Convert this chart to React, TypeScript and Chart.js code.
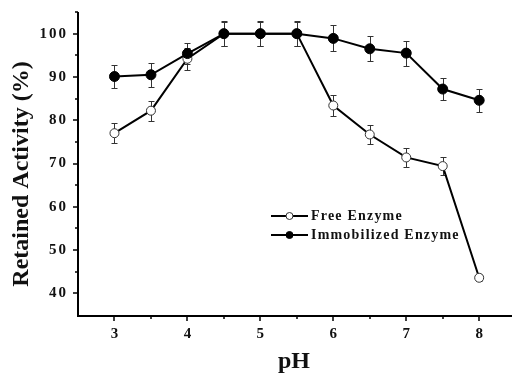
import React, { useEffect, useRef } from "react";
import { Chart, registerables } from "chart.js";
Chart.register(...registerables);

const phValues = [3, 3.5, 4, 4.5, 5, 5.5, 6, 6.5, 7, 7.5, 8];
const freeActivity = [77.0, 82.2, 94.2, 100, 100, 100, 83.4, 76.7, 71.4, 69.4, 43.6];
const freeError = [2.3, 2.3, 2.5, 2.8, 2.8, 2.8, 2.5, 2.2, 2.1, 2.1, 0.8];
const immobilizedActivity = [90.1, 90.5, 95.4, 100, 100, 100, 98.9, 96.5, 95.5, 87.2, 84.6];
const immobilizedError = [2.7, 2.8, 2.5, 2.9, 2.9, 2.9, 3.0, 2.9, 2.9, 2.6, 2.6];
const xTickValues = [3, 4, 5, 6, 7, 8];
const xMinorTickValues = [3.5, 4.5, 5.5, 6.5, 7.5];
const yTickValues = [40, 50, 60, 70, 80, 90, 100];
const yMinorTickValues = [45, 55, 65, 75, 85, 95, 105];
const seriesLabels = ["Free Enzyme", "Immobilized Enzyme"];
const xTitle = "pH";
const yTitle = "Retained Activity (%)";

const FONT = '"Liberation Serif", "Times New Roman", serif';
const TEXT = "#111111";

const errorBarPlugin = {
  id: "errorBars",
  beforeDatasetsDraw(chart: any) {
    const ctx = chart.ctx;
    const xs = chart.scales.x;
    const ys = chart.scales.y;
    const errs = [freeError, immobilizedError];
    ctx.save();
    ctx.strokeStyle = "#333333";
    ctx.lineWidth = 1;
    chart.data.datasets.forEach((ds: any, i: number) => {
      ds.data.forEach((p: any, j: number) => {
        const x = Math.round(xs.getPixelForValue(p.x)) + 0.5;
        const yt = Math.round(ys.getPixelForValue(p.y + errs[i][j])) + 0.5;
        const yb = Math.round(ys.getPixelForValue(p.y - errs[i][j])) + 0.5;
        ctx.beginPath();
        ctx.moveTo(x, yt);
        ctx.lineTo(x, yb);
        ctx.moveTo(x - 3, yt);
        ctx.lineTo(x + 3, yt);
        ctx.moveTo(x - 3, yb);
        ctx.lineTo(x + 3, yb);
        ctx.stroke();
      });
    });
    ctx.restore();
  },
};

const axesPlugin = {
  id: "customAxes",
  afterDraw(chart: any) {
    const ctx = chart.ctx;
    const xs = chart.scales.x;
    const ys = chart.scales.y;
    const a = chart.chartArea;
    ctx.save();
    ctx.strokeStyle = "#000";
    ctx.lineWidth = 2;
    ctx.beginPath();
    ctx.moveTo(a.left, a.top);
    ctx.lineTo(a.left, a.bottom + 1);
    ctx.lineTo(a.right, a.bottom + 1);
    ctx.stroke();

    ctx.lineWidth = 1.5;
    ctx.beginPath();
    xTickValues.forEach((v) => {
      const x = Math.round(xs.getPixelForValue(v));
      ctx.moveTo(x, a.bottom + 1);
      ctx.lineTo(x, a.bottom + 6);
    });
    xMinorTickValues.forEach((v) => {
      const x = Math.round(xs.getPixelForValue(v));
      ctx.moveTo(x, a.bottom + 1);
      ctx.lineTo(x, a.bottom + 4);
    });
    yTickValues.forEach((v) => {
      const y = Math.round(ys.getPixelForValue(v));
      ctx.moveTo(a.left, y);
      ctx.lineTo(a.left - 5, y);
    });
    yMinorTickValues.forEach((v) => {
      const y = Math.round(ys.getPixelForValue(v));
      ctx.moveTo(a.left, y);
      ctx.lineTo(a.left - 3, y);
    });
    ctx.stroke();

    ctx.fillStyle = TEXT;
    ctx.font = `bold 15px ${FONT}`;
    ctx.textBaseline = "middle";
    ctx.textAlign = "center";
    xTickValues.forEach((v) => {
      ctx.fillText(String(v), xs.getPixelForValue(v), a.bottom + 19);
    });
    ctx.textAlign = "right";
    (ctx as any).letterSpacing = "2px";
    yTickValues.forEach((v) => {
      ctx.fillText(String(v), a.left - 10, ys.getPixelForValue(v));
    });
    (ctx as any).letterSpacing = "0px";

    ctx.font = `bold 24px ${FONT}`;
    ctx.textAlign = "center";
    ctx.textBaseline = "alphabetic";
    ctx.fillText(xTitle, (a.left + a.right) / 2 - 1, a.bottom + 53);

    ctx.save();
    ctx.translate(22, 174);
    ctx.rotate(-Math.PI / 2);
    ctx.textBaseline = "middle";
    ctx.fillText(yTitle, 0, 0);
    ctx.restore();

    // legend
    const lx = a.left + 193;
    const ly = a.top + 204;
    chart.data.datasets.forEach((ds: any, i: number) => {
      const yy = ly + i * 19;
      ctx.strokeStyle = "#000";
      ctx.lineWidth = 2;
      ctx.beginPath();
      ctx.moveTo(lx, yy);
      ctx.lineTo(lx + 37, yy);
      ctx.stroke();
      ctx.beginPath();
      ctx.arc(lx + 18.5, yy, 3.5, 0, Math.PI * 2);
      ctx.fillStyle = ds.pointBackgroundColor;
      ctx.fill();
      ctx.lineWidth = 1;
      ctx.strokeStyle = ds.pointBorderColor;
      ctx.stroke();
      ctx.fillStyle = TEXT;
      ctx.font = `bold 14px ${FONT}`;
      (ctx as any).letterSpacing = "1.2px";
      ctx.textAlign = "left";
      ctx.textBaseline = "middle";
      ctx.fillText(seriesLabels[i], lx + 40, yy + 0.5);
      (ctx as any).letterSpacing = "0px";
    });
    ctx.restore();
  },
};

export default function App() {
  const ref = useRef<HTMLCanvasElement | null>(null);
  useEffect(() => {
    if (!ref.current) return;
    const chart = new Chart(ref.current, {
      type: "line",
      data: {
        datasets: [
          {
            label: seriesLabels[0],
            data: phValues.map((x, i) => ({ x, y: freeActivity[i] })),
            borderColor: "#000",
            borderWidth: 2,
            pointRadius: 4.5,
            pointBackgroundColor: "#ffffff",
            pointBorderColor: "#333333",
            pointBorderWidth: 1,
            tension: 0,
            order: 1,
          },
          {
            label: seriesLabels[1],
            data: phValues.map((x, i) => ({ x, y: immobilizedActivity[i] })),
            borderColor: "#000",
            borderWidth: 2,
            pointRadius: 5,
            pointBackgroundColor: "#000000",
            pointBorderColor: "#000000",
            pointBorderWidth: 1,
            tension: 0,
            order: 0,
          },
        ],
      },
      options: {
        responsive: false,
        animation: false,
        clip: false as any,
        layout: { autoPadding: false, padding: { left: 78, top: 12, right: 0, bottom: 59 } },
        plugins: { legend: { display: false }, tooltip: { enabled: false } },
        scales: {
          x: { type: "linear", min: 2.5, max: 8.45, display: false },
          y: { type: "linear", min: 35, max: 105, display: false },
        },
      },
      plugins: [errorBarPlugin, axesPlugin],
    });
    return () => chart.destroy();
  }, []);
  return (
    <div style={{ position: "fixed", left: 0, top: 0, width: 512, height: 374, background: "#fff" }}>
      <canvas ref={ref} width={512} height={374} />
    </div>
  );
}
